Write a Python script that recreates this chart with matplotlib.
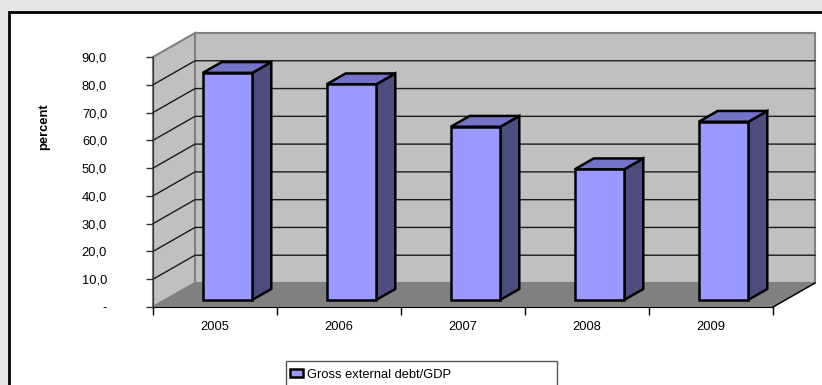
import numpy as np
import matplotlib.pyplot as plt
from matplotlib.patches import Polygon, Rectangle, Patch

# data
years = ['2005', '2006', '2007', '2008', '2009']
debt_gdp = [81.7, 77.6, 62.3, 47.0, 64.1]
yticks = [0, 10, 20, 30, 40, 50, 60, 70, 80, 90]
ytick_labels = ['-', '10,0', '20,0', '30,0', '40,0', '50,0', '60,0', '70,0', '80,0', '90,0']
series_name = 'Gross external debt/GDP'

plt.rcParams['font.family'] = ['Liberation Sans', 'DejaVu Sans']
plt.rcParams['font.size'] = 9.3

W, H = 822, 385
fig = plt.figure(figsize=(W / 100, H / 100), dpi=100, facecolor='#e6e6e8')

# white chart area with black frame (runs off the right/bottom edge)
fig.patches.append(Rectangle((8.5 / W, -0.1), 1.2, (H - 12) / H + 0.1,
                             transform=fig.transFigure, facecolor='white',
                             edgecolor='black', lw=2, zorder=-5))

ax = fig.add_axes([153 / W, (H - 307) / H, 620 / W, 250 / H])
ax.set_xlim(-0.5, 4.5)
ax.set_ylim(0, 90)
ax.patch.set_visible(False)

# depth of the 3d box in data units
DX, DY = 42 / 124, 24 / (250 / 90)
x0, x1 = -0.5, 4.5
ymax = 90
wall = '#c0c0c0'
edge = '#808080'

# back wall, side wall, floor
ax.add_patch(Polygon([(x0 + DX, DY), (x1 + DX, DY), (x1 + DX, ymax + DY), (x0 + DX, ymax + DY)],
                     facecolor=wall, edgecolor=edge, lw=1.5, clip_on=False, zorder=1))
ax.add_patch(Polygon([(x0, 0), (x0 + DX, DY), (x0 + DX, ymax + DY), (x0, ymax)],
                     facecolor=wall, edgecolor=edge, lw=1.5, clip_on=False, zorder=1))
ax.add_patch(Polygon([(x0, 0), (x1, 0), (x1 + DX, DY), (x0 + DX, DY)],
                     facecolor='#808080', edgecolor='#808080', lw=1, clip_on=False, zorder=1))
ax.plot([x1, x1 + DX], [0, DY], color='black', lw=1, clip_on=False, zorder=2)

# gridlines on the walls
for v in yticks[1:-1]:
    ax.plot([x0, x0 + DX, x1 + DX], [v, v + DY, v + DY], color='#1a1a1a', lw=1,
            clip_on=False, zorder=2)

# bars
bw = 0.4
f0, f1 = 0.3, 0.75
ox, oy = f0 * DX, f0 * DY
bx, by = (f1 - f0) * DX, (f1 - f0) * DY
for i, v in enumerate(debt_gdp):
    left = i - bw / 2 + ox
    right = left + bw
    bottom = oy
    top = v + oy
    ax.add_patch(Polygon([(right, bottom), (right + bx, bottom + by), (right + bx, top + by), (right, top)],
                         facecolor='#4d4d80', edgecolor='black', lw=1.8, joinstyle='miter',
                         clip_on=False, zorder=3))
    ax.add_patch(Polygon([(left, top), (right, top), (right + bx, top + by), (left + bx, top + by)],
                         facecolor='#7373c8', edgecolor='black', lw=1.8, joinstyle='miter',
                         clip_on=False, zorder=3))
    ax.add_patch(Rectangle((left, bottom), bw, v, facecolor='#9999ff', edgecolor='black',
                           lw=1.8, joinstyle='miter', clip_on=False, zorder=4))

# axes
for s in ['top', 'right']:
    ax.spines[s].set_visible(False)
ax.spines['left'].set_color('#333333')
ax.spines['bottom'].set_color('black')
ax.spines['left'].set_zorder(5)
ax.spines['bottom'].set_zorder(5)

ax.set_yticks(yticks)
ax.set_yticklabels(ytick_labels)
ax.tick_params(axis='y', direction='out', length=5, width=1, color='#333333', pad=28)
ax.set_xticks(range(len(years)))
ax.set_xticklabels(years)
ax.tick_params(axis='x', which='major', length=0, pad=10)
ax.set_xticks(np.arange(-0.5, 5, 1), minor=True)
ax.tick_params(axis='x', which='minor', direction='out', length=6, width=1)

ax.set_ylabel('percent', fontweight='bold')
ax.yaxis.set_label_coords(-0.166, 0.72)

# legend
fig.patches.append(Rectangle((285.5 / W, -0.1), 271.5 / W, (H - 361) / H + 0.1,
                             transform=fig.transFigure, facecolor='white',
                             edgecolor='#555555', lw=1, zorder=-4))
fig.legend(handles=[Patch(facecolor='#9999ff', edgecolor='black', lw=1.8, label=series_name)],
           loc='upper left', bbox_to_anchor=(287 / W, (H - 366) / H), frameon=False,
           handlelength=1.0, handleheight=0.55, handletextpad=0.35, borderpad=0.2,
           borderaxespad=0)

fig.savefig('out.png', dpi=100, facecolor=fig.get_facecolor())
